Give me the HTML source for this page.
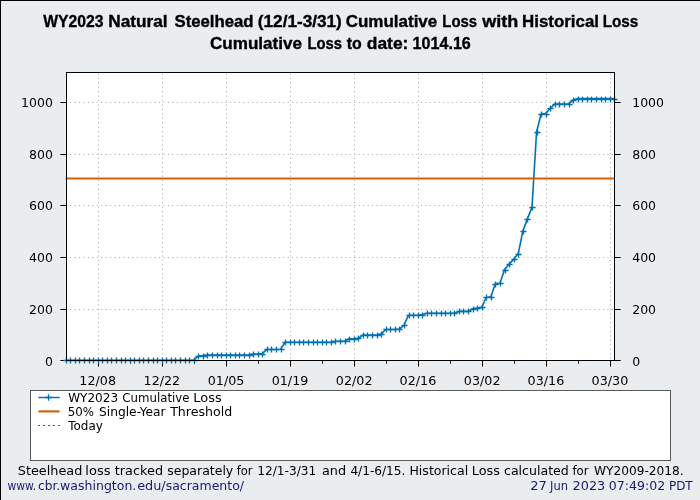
<!DOCTYPE html>
<html lang="en"><head><meta charset="utf-8"><title>WY2023 Natural Steelhead Cumulative Loss</title>
<style>
html,body{margin:0;padding:0;background:#E9EDF0;}
body{width:700px;height:500px;overflow:hidden;}
svg{display:block;}
text{font-family:"DejaVu Sans","Liberation Sans",sans-serif;font-size:12.5px;fill:#000;}
.title{font-family:"Liberation Sans","DejaVu Sans",sans-serif;font-weight:bold;font-size:16.3px;stroke:#000;stroke-width:0.35px;}
.lg{font-size:12.1px;}
.navy{fill:#191970;}
</style></head><body>
<svg width="700" height="500" viewBox="0 0 700 500">
<rect x="0" y="0" width="700" height="500" fill="#E9EDF0"/>
<rect x="0" y="0" width="700" height="1" fill="#000"/>
<rect x="0" y="0" width="1" height="500" fill="#000"/>
<text class="title" y="26.50"><tspan x="43.20" textLength="60.26" lengthAdjust="spacingAndGlyphs">WY2023</tspan> <tspan x="108.18" textLength="59.45" lengthAdjust="spacingAndGlyphs">Natural</tspan> <tspan x="174.49" textLength="79.11" lengthAdjust="spacingAndGlyphs">Steelhead</tspan> <tspan x="257.84" textLength="83.99" lengthAdjust="spacingAndGlyphs">(12/1-3/31)</tspan> <tspan x="345.68" textLength="91.59" lengthAdjust="spacingAndGlyphs">Cumulative</tspan> <tspan x="442.33" textLength="34.78" lengthAdjust="spacingAndGlyphs">Loss</tspan> <tspan x="482.17" textLength="36.07" lengthAdjust="spacingAndGlyphs">with</tspan> <tspan x="522.10" textLength="76.90" lengthAdjust="spacingAndGlyphs">Historical</tspan> <tspan x="602.71" textLength="35.62" lengthAdjust="spacingAndGlyphs">Loss</tspan></text>
<text class="title" y="48.50"><tspan x="209.98" textLength="92.09" lengthAdjust="spacingAndGlyphs">Cumulative</tspan> <tspan x="307.43" textLength="34.57" lengthAdjust="spacingAndGlyphs">Loss</tspan> <tspan x="346.82" textLength="15.00" lengthAdjust="spacingAndGlyphs">to</tspan> <tspan x="366.77" textLength="41.61" lengthAdjust="spacingAndGlyphs">date:</tspan> <tspan x="412.61" textLength="58.23" lengthAdjust="spacingAndGlyphs">1014.16</tspan></text>
<rect x="66" y="72" width="549" height="289" fill="#fff"/>
<g stroke="#b0b0b0" stroke-width="1" stroke-dasharray="1.11 3.33" fill="none">
<line x1="98.50" y1="360.20" x2="98.50" y2="72.40" stroke-dashoffset="-1.5"/>
<line x1="162.50" y1="360.20" x2="162.50" y2="72.40" stroke-dashoffset="-1.5"/>
<line x1="226.50" y1="360.20" x2="226.50" y2="72.40" stroke-dashoffset="-1.5"/>
<line x1="290.50" y1="360.20" x2="290.50" y2="72.40" stroke-dashoffset="-1.5"/>
<line x1="354.50" y1="360.20" x2="354.50" y2="72.40" stroke-dashoffset="-1.5"/>
<line x1="418.50" y1="360.20" x2="418.50" y2="72.40" stroke-dashoffset="-1.5"/>
<line x1="482.50" y1="360.20" x2="482.50" y2="72.40" stroke-dashoffset="-1.5"/>
<line x1="546.50" y1="360.20" x2="546.50" y2="72.40" stroke-dashoffset="-1.5"/>
<line x1="610.50" y1="360.20" x2="610.50" y2="72.40" stroke-dashoffset="-1.5"/>
<line x1="65.70" y1="309.50" x2="614.27" y2="309.50"/>
<line x1="65.70" y1="257.50" x2="614.27" y2="257.50"/>
<line x1="65.70" y1="205.50" x2="614.27" y2="205.50"/>
<line x1="65.70" y1="154.50" x2="614.27" y2="154.50"/>
<line x1="65.70" y1="102.50" x2="614.27" y2="102.50"/>
</g>
<g stroke="#000" stroke-width="1">
<line x1="98.50" y1="361.00" x2="98.50" y2="366.60"/>
<line x1="162.50" y1="361.00" x2="162.50" y2="366.60"/>
<line x1="226.50" y1="361.00" x2="226.50" y2="366.60"/>
<line x1="290.50" y1="361.00" x2="290.50" y2="366.60"/>
<line x1="354.50" y1="361.00" x2="354.50" y2="366.60"/>
<line x1="418.50" y1="361.00" x2="418.50" y2="366.60"/>
<line x1="482.50" y1="361.00" x2="482.50" y2="366.60"/>
<line x1="546.50" y1="361.00" x2="546.50" y2="366.60"/>
<line x1="610.50" y1="361.00" x2="610.50" y2="366.60"/>
<line x1="130.50" y1="361.00" x2="130.50" y2="363.80"/>
<line x1="194.50" y1="361.00" x2="194.50" y2="363.80"/>
<line x1="258.50" y1="361.00" x2="258.50" y2="363.80"/>
<line x1="322.50" y1="361.00" x2="322.50" y2="363.80"/>
<line x1="386.50" y1="361.00" x2="386.50" y2="363.80"/>
<line x1="450.50" y1="361.00" x2="450.50" y2="363.80"/>
<line x1="514.50" y1="361.00" x2="514.50" y2="363.80"/>
<line x1="578.50" y1="361.00" x2="578.50" y2="363.80"/>
<line x1="60.30" y1="360.50" x2="66.00" y2="360.50"/>
<line x1="615.00" y1="360.50" x2="620.70" y2="360.50"/>
<line x1="60.30" y1="309.50" x2="66.00" y2="309.50"/>
<line x1="615.00" y1="309.50" x2="620.70" y2="309.50"/>
<line x1="60.30" y1="257.50" x2="66.00" y2="257.50"/>
<line x1="615.00" y1="257.50" x2="620.70" y2="257.50"/>
<line x1="60.30" y1="205.50" x2="66.00" y2="205.50"/>
<line x1="615.00" y1="205.50" x2="620.70" y2="205.50"/>
<line x1="60.30" y1="154.50" x2="66.00" y2="154.50"/>
<line x1="615.00" y1="154.50" x2="620.70" y2="154.50"/>
<line x1="60.30" y1="102.50" x2="66.00" y2="102.50"/>
<line x1="615.00" y1="102.50" x2="620.70" y2="102.50"/>
</g>
<polyline fill="none" stroke="#0072B2" stroke-width="1.6" stroke-linejoin="round" points="65.70,360.20 70.27,360.20 74.84,360.20 79.41,360.20 83.99,360.20 88.56,360.20 93.13,360.20 97.70,360.20 102.27,360.20 106.84,360.20 111.41,360.20 115.99,360.20 120.56,360.20 125.13,360.20 129.70,360.20 134.27,360.20 138.84,360.20 143.41,360.20 147.99,360.20 152.56,360.20 157.13,360.20 161.70,360.20 166.27,360.20 170.84,360.20 175.41,360.20 179.99,360.20 184.56,360.20 189.13,360.20 193.70,360.20 198.27,356.02 202.84,355.63 207.41,354.99 211.99,354.99 216.56,354.99 221.13,354.99 225.70,354.99 230.27,354.99 234.84,354.99 239.41,354.99 243.99,355.12 248.56,355.12 253.13,354.09 257.70,354.09 262.27,353.57 266.84,349.44 271.41,349.44 275.99,349.44 280.56,349.18 285.13,342.22 289.70,342.22 294.27,342.22 298.84,342.22 303.41,342.22 307.99,342.22 312.56,342.22 317.13,342.22 321.70,342.22 326.27,342.22 330.84,342.22 335.41,341.31 339.98,341.31 344.56,340.93 349.13,338.73 353.70,338.73 358.27,338.35 362.84,335.12 367.41,335.12 371.98,335.12 376.56,335.12 381.13,334.09 385.70,329.45 390.27,329.45 394.84,329.45 399.41,329.06 403.98,325.06 408.56,315.26 413.13,315.26 417.70,315.26 422.27,314.61 426.84,313.19 431.41,313.19 435.98,313.19 440.56,313.19 445.13,313.19 449.70,313.19 454.27,313.19 458.84,311.39 463.41,311.39 467.98,311.39 472.56,308.81 477.13,308.16 481.70,307.39 486.27,297.45 490.84,296.68 495.41,283.52 499.98,283.26 504.56,269.59 509.13,264.17 513.70,259.14 518.27,253.59 522.84,231.15 527.41,218.89 531.98,207.41 536.56,132.00 541.13,114.02 545.70,113.60 550.27,108.34 554.84,104.01 559.41,104.01 563.98,104.01 568.56,104.01 573.13,100.08 577.70,98.55 582.27,98.55 586.84,98.55 591.41,98.55 595.98,98.55 600.56,98.55 605.13,98.55 609.70,98.55 614.27,98.55"/>
<path fill="none" stroke="#0072B2" stroke-width="1.35" d="M63.4 360.5h6.2M66.5 357.4v6.2M67.4 360.5h6.2M70.5 357.4v6.2M72.4 360.5h6.2M75.5 357.4v6.2M76.4 360.5h6.2M79.5 357.4v6.2M81.4 360.5h6.2M84.5 357.4v6.2M86.4 360.5h6.2M89.5 357.4v6.2M90.4 360.5h6.2M93.5 357.4v6.2M95.4 360.5h6.2M98.5 357.4v6.2M99.4 360.5h6.2M102.5 357.4v6.2M104.4 360.5h6.2M107.5 357.4v6.2M108.4 360.5h6.2M111.5 357.4v6.2M113.4 360.5h6.2M116.5 357.4v6.2M118.4 360.5h6.2M121.5 357.4v6.2M122.4 360.5h6.2M125.5 357.4v6.2M127.4 360.5h6.2M130.5 357.4v6.2M131.4 360.5h6.2M134.5 357.4v6.2M136.4 360.5h6.2M139.5 357.4v6.2M140.4 360.5h6.2M143.5 357.4v6.2M145.4 360.5h6.2M148.5 357.4v6.2M150.4 360.5h6.2M153.5 357.4v6.2M154.4 360.5h6.2M157.5 357.4v6.2M159.4 360.5h6.2M162.5 357.4v6.2M163.4 360.5h6.2M166.5 357.4v6.2M168.4 360.5h6.2M171.5 357.4v6.2M172.4 360.5h6.2M175.5 357.4v6.2M177.4 360.5h6.2M180.5 357.4v6.2M182.4 360.5h6.2M185.5 357.4v6.2M186.4 360.5h6.2M189.5 357.4v6.2M191.4 360.5h6.2M194.5 357.4v6.2M195.4 356.5h6.2M198.5 353.4v6.2M200.4 356.5h6.2M203.5 353.4v6.2M204.4 355.5h6.2M207.5 352.4v6.2M209.4 355.5h6.2M212.5 352.4v6.2M214.4 355.5h6.2M217.5 352.4v6.2M218.4 355.5h6.2M221.5 352.4v6.2M223.4 355.5h6.2M226.5 352.4v6.2M227.4 355.5h6.2M230.5 352.4v6.2M232.4 355.5h6.2M235.5 352.4v6.2M236.4 355.5h6.2M239.5 352.4v6.2M241.4 355.5h6.2M244.5 352.4v6.2M246.4 355.5h6.2M249.5 352.4v6.2M250.4 354.5h6.2M253.5 351.4v6.2M255.4 354.5h6.2M258.5 351.4v6.2M259.4 354.5h6.2M262.5 351.4v6.2M264.4 349.5h6.2M267.5 346.4v6.2M268.4 349.5h6.2M271.5 346.4v6.2M273.4 349.5h6.2M276.5 346.4v6.2M278.4 349.5h6.2M281.5 346.4v6.2M282.4 342.5h6.2M285.5 339.4v6.2M287.4 342.5h6.2M290.5 339.4v6.2M291.4 342.5h6.2M294.5 339.4v6.2M296.4 342.5h6.2M299.5 339.4v6.2M300.4 342.5h6.2M303.5 339.4v6.2M305.4 342.5h6.2M308.5 339.4v6.2M310.4 342.5h6.2M313.5 339.4v6.2M314.4 342.5h6.2M317.5 339.4v6.2M319.4 342.5h6.2M322.5 339.4v6.2M323.4 342.5h6.2M326.5 339.4v6.2M328.4 342.5h6.2M331.5 339.4v6.2M332.4 341.5h6.2M335.5 338.4v6.2M337.4 341.5h6.2M340.5 338.4v6.2M342.4 341.5h6.2M345.5 338.4v6.2M346.4 339.5h6.2M349.5 336.4v6.2M351.4 339.5h6.2M354.5 336.4v6.2M355.4 338.5h6.2M358.5 335.4v6.2M360.4 335.5h6.2M363.5 332.4v6.2M364.4 335.5h6.2M367.5 332.4v6.2M369.4 335.5h6.2M372.5 332.4v6.2M374.4 335.5h6.2M377.5 332.4v6.2M378.4 334.5h6.2M381.5 331.4v6.2M383.4 329.5h6.2M386.5 326.4v6.2M387.4 329.5h6.2M390.5 326.4v6.2M392.4 329.5h6.2M395.5 326.4v6.2M396.4 329.5h6.2M399.5 326.4v6.2M401.4 325.5h6.2M404.5 322.4v6.2M406.4 315.5h6.2M409.5 312.4v6.2M410.4 315.5h6.2M413.5 312.4v6.2M415.4 315.5h6.2M418.5 312.4v6.2M419.4 315.5h6.2M422.5 312.4v6.2M424.4 313.5h6.2M427.5 310.4v6.2M428.4 313.5h6.2M431.5 310.4v6.2M433.4 313.5h6.2M436.5 310.4v6.2M438.4 313.5h6.2M441.5 310.4v6.2M442.4 313.5h6.2M445.5 310.4v6.2M447.4 313.5h6.2M450.5 310.4v6.2M451.4 313.5h6.2M454.5 310.4v6.2M456.4 311.5h6.2M459.5 308.4v6.2M460.4 311.5h6.2M463.5 308.4v6.2M465.4 311.5h6.2M468.5 308.4v6.2M470.4 309.5h6.2M473.5 306.4v6.2M474.4 308.5h6.2M477.5 305.4v6.2M479.4 307.5h6.2M482.5 304.4v6.2M483.4 297.5h6.2M486.5 294.4v6.2M488.4 297.5h6.2M491.5 294.4v6.2M492.4 284.5h6.2M495.5 281.4v6.2M497.4 283.5h6.2M500.5 280.4v6.2M502.4 270.5h6.2M505.5 267.4v6.2M506.4 264.5h6.2M509.5 261.4v6.2M511.4 259.5h6.2M514.5 256.4v6.2M515.4 254.5h6.2M518.5 251.4v6.2M520.4 231.5h6.2M523.5 228.4v6.2M524.4 219.5h6.2M527.5 216.4v6.2M529.4 207.5h6.2M532.5 204.4v6.2M534.4 132.5h6.2M537.5 129.4v6.2M538.4 114.5h6.2M541.5 111.4v6.2M543.4 114.5h6.2M546.5 111.4v6.2M547.4 108.5h6.2M550.5 105.4v6.2M552.4 104.5h6.2M555.5 101.4v6.2M556.4 104.5h6.2M559.5 101.4v6.2M561.4 104.5h6.2M564.5 101.4v6.2M566.4 104.5h6.2M569.5 101.4v6.2M570.4 100.5h6.2M573.5 97.4v6.2M575.4 99.5h6.2M578.5 96.4v6.2M579.4 99.5h6.2M582.5 96.4v6.2M584.4 99.5h6.2M587.5 96.4v6.2M588.4 99.5h6.2M591.5 96.4v6.2M593.4 99.5h6.2M596.5 96.4v6.2M598.4 99.5h6.2M601.5 96.4v6.2M602.4 99.5h6.2M605.5 96.4v6.2M607.4 99.5h6.2M610.5 96.4v6.2M611.4 99.5h6.2M614.5 96.4v6.2"/>
<line x1="65.70" y1="178.50" x2="614.27" y2="178.50" stroke="#D55E00" stroke-width="2.1"/>
<rect x="66.5" y="72.5" width="548" height="288" fill="none" stroke="#000" stroke-width="1"/>
<text x="79.34" y="384.70" textLength="36.67" lengthAdjust="spacingAndGlyphs">12/08</text>
<text x="143.56" y="384.70" textLength="36.67" lengthAdjust="spacingAndGlyphs">12/22</text>
<text x="207.75" y="384.70" textLength="36.67" lengthAdjust="spacingAndGlyphs">01/05</text>
<text x="271.66" y="384.70" textLength="36.67" lengthAdjust="spacingAndGlyphs">01/19</text>
<text x="335.85" y="384.70" textLength="36.67" lengthAdjust="spacingAndGlyphs">02/02</text>
<text x="399.59" y="384.70" textLength="36.67" lengthAdjust="spacingAndGlyphs">02/16</text>
<text x="463.85" y="384.70" textLength="36.67" lengthAdjust="spacingAndGlyphs">03/02</text>
<text x="527.59" y="384.70" textLength="36.67" lengthAdjust="spacingAndGlyphs">03/16</text>
<text x="591.62" y="384.70" textLength="36.67" lengthAdjust="spacingAndGlyphs">03/30</text>
<text x="52.9" y="366.00" text-anchor="end">0</text>
<text x="632.2" y="366.00">0</text>
<text x="52.9" y="314.00" text-anchor="end">200</text>
<text x="632.2" y="314.00">200</text>
<text x="52.9" y="262.00" text-anchor="end">400</text>
<text x="632.2" y="262.00">400</text>
<text x="52.9" y="210.00" text-anchor="end">600</text>
<text x="632.2" y="210.00">600</text>
<text x="52.9" y="159.00" text-anchor="end">800</text>
<text x="632.2" y="159.00">800</text>
<text x="52.9" y="107.00" text-anchor="end">1000</text>
<text x="632.2" y="107.00">1000</text>
<rect x="30.5" y="390.5" width="640" height="70" fill="#fff" stroke="#595959" stroke-width="1"/>
<line x1="38.3" y1="397.5" x2="59.7" y2="397.5" stroke="#0072B2" stroke-width="1.45"/>
<path d="M45.2 397.5h6.6M48.5 394.2v6.6" stroke="#0072B2" stroke-width="1.3" fill="none"/>
<line x1="38.4" y1="411.4" x2="59.6" y2="411.4" stroke="#D55E00" stroke-width="2.1"/>
<line x1="38" y1="425.5" x2="60" y2="425.5" stroke="#555" stroke-width="1.1" stroke-dasharray="2 3"/>
<text class="lg" y="401.90"><tspan x="68.16" textLength="49.89" lengthAdjust="spacingAndGlyphs">WY2023</tspan> <tspan x="122.33" textLength="67.17" lengthAdjust="spacingAndGlyphs">Cumulative</tspan> <tspan x="193.33" textLength="28.45" lengthAdjust="spacingAndGlyphs">Loss</tspan></text>
<text class="lg" y="415.70"><tspan x="67.68" textLength="26.35" lengthAdjust="spacingAndGlyphs">50%</tspan> <tspan x="98.98" textLength="66.62" lengthAdjust="spacingAndGlyphs">Single-Year</tspan> <tspan x="170.17" textLength="62.05" lengthAdjust="spacingAndGlyphs">Threshold</tspan></text>
<text class="lg" y="430.10"><tspan x="68.16" textLength="34.70" lengthAdjust="spacingAndGlyphs">Today</tspan></text>
<text y="474.80"><tspan x="17.77" textLength="64.51" lengthAdjust="spacingAndGlyphs">Steelhead</tspan> <tspan x="85.37" textLength="25.11" lengthAdjust="spacingAndGlyphs">loss</tspan> <tspan x="114.78" textLength="48.27" lengthAdjust="spacingAndGlyphs">tracked</tspan> <tspan x="167.21" textLength="66.06" lengthAdjust="spacingAndGlyphs">separately</tspan> <tspan x="236.81" textLength="15.79" lengthAdjust="spacingAndGlyphs">for</tspan> <tspan x="257.26" textLength="59.06" lengthAdjust="spacingAndGlyphs">12/1-3/31</tspan> <tspan x="322.03" textLength="24.14" lengthAdjust="spacingAndGlyphs">and</tspan> <tspan x="350.39" textLength="55.03" lengthAdjust="spacingAndGlyphs">4/1-6/15.</tspan> <tspan x="409.45" textLength="58.73" lengthAdjust="spacingAndGlyphs">Historical</tspan> <tspan x="471.72" textLength="28.17" lengthAdjust="spacingAndGlyphs">Loss</tspan> <tspan x="504.01" textLength="64.85" lengthAdjust="spacingAndGlyphs">calculated</tspan> <tspan x="572.51" textLength="16.09" lengthAdjust="spacingAndGlyphs">for</tspan> <tspan x="593.97" textLength="89.64" lengthAdjust="spacingAndGlyphs">WY2009-2018.</tspan></text>
<text class="navy" y="489.70"><tspan x="7.42" textLength="28.76" lengthAdjust="spacingAndGlyphs">www.</tspan><tspan x="37.93" textLength="22.28" lengthAdjust="spacingAndGlyphs">cbr.</tspan><tspan x="60.14" textLength="76.21" lengthAdjust="spacingAndGlyphs">washington.</tspan><tspan x="137.19" textLength="28.52" lengthAdjust="spacingAndGlyphs">edu/</tspan><tspan x="165.71" textLength="78.31" lengthAdjust="spacingAndGlyphs">sacramento/</tspan></text>
<text class="navy" y="489.70"><tspan x="530.22" textLength="16.62" lengthAdjust="spacingAndGlyphs">27</tspan> <tspan x="550.08" textLength="17.97" lengthAdjust="spacingAndGlyphs">Jun</tspan> <tspan x="572.54" textLength="32.69" lengthAdjust="spacingAndGlyphs">2023</tspan> <tspan x="608.78" textLength="56.39" lengthAdjust="spacingAndGlyphs">07:49:02</tspan> <tspan x="668.90" textLength="23.83" lengthAdjust="spacingAndGlyphs">PDT</tspan></text>
</svg></body></html>
